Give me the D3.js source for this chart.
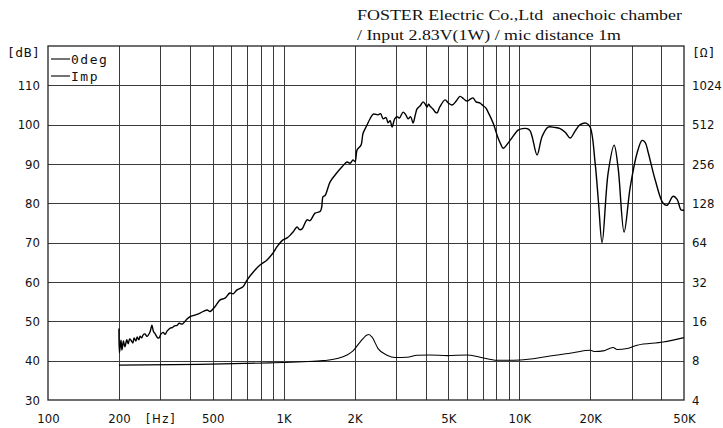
<!DOCTYPE html>
<html>
<head>
<meta charset="utf-8">
<script src="https://cdn.jsdelivr.net/npm/d3@7"></script>
<style>
  html, body { margin: 0; padding: 0; background: #fff; }
  svg { display: block; }
  .tick text { font-family: "DejaVu Sans Condensed", "DejaVu Sans", sans-serif; font-size: 13px; fill: #111; }
  .mono { font-family: "DejaVu Sans Mono", monospace; font-size: 13px; fill: #111; letter-spacing: 1.5px; }
  .title { font-family: "Liberation Serif", "Times New Roman", serif; font-size: 15.5px; fill: #111; }
</style>
</head>
<body>
<svg id="chart" width="723" height="428"></svg>
<script>
// 0deg SPL response [Hz, dB]
const splFreq = [200, 201, 204, 206, 209, 212, 216, 219, 222, 225, 229, 232, 236, 239, 243, 246, 250, 253, 258, 263,
  271, 276, 280, 285, 292, 296, 302, 308, 314, 320, 330, 337, 343, 353, 360, 371, 385, 401, 420, 442,
  473, 487, 511, 536, 564, 591, 610, 634, 672, 699, 742, 794, 850, 902, 938, 994, 1034, 1070, 1096, 1140,
  1170, 1198, 1257, 1294, 1359, 1427, 1450, 1470, 1499, 1573, 1653, 1770, 1858, 1913, 1970, 2010, 2050, 2130, 2173, 2259,
  2327, 2400, 2516, 2580, 2642, 2720, 2774, 2830, 2885, 2960, 3029, 3100, 3212, 3300, 3373, 3460, 3542, 3620, 3683, 3800,
  3905, 3980, 4061, 4120, 4182, 4300, 4400, 4479, 4600, 4843, 5000, 5186, 5400, 5607, 5800, 6003, 6200, 6367, 6550, 6818,
  7022, 7200, 7372, 7743, 8128, 8350, 8535, 9141, 9883, 10300, 10795, 11100, 11333, 11903, 12497, 13253, 14100, 14903, 15700, 16430,
  17300, 18121, 19207, 19976, 20976, 21700, 22459, 23821, 25260, 26268, 27845, 29542, 31623, 33206, 34200, 35219, 37717, 40787, 42402, 44960,
  46756, 48626, 50000];
const splDb = [48.2, 42.0, 45.2, 42.7, 45.0, 43.5, 45.3, 44.3, 45.5, 45.2, 44.5, 45.8, 45.0, 46.0, 45.3, 46.2, 45.8, 46.5, 46.8, 46.2,
  47.3, 49.0, 47.5, 46.8, 45.8, 45.8, 46.8, 47.2, 46.7, 47.5, 48.3, 48.4, 48.8, 49.0, 49.5, 49.3, 50.3, 51.2, 51.6, 52.1,
  52.9, 52.5, 53.7, 55.4, 55.9, 57.2, 57.0, 58.0, 58.8, 60.5, 62.5, 64.3, 65.6, 67.4, 69.0, 70.7, 71.2, 72.0, 72.7, 74.0,
  73.3, 73.5, 75.8, 75.6, 77.5, 77.9, 79.0, 81.7, 82.0, 85.4, 87.2, 89.3, 90.5, 90.2, 91.0, 90.6, 93.6, 94.8, 97.8, 99.9,
  101.5, 102.7, 102.5, 102.8, 101.5, 101.8, 100.5, 101.0, 99.4, 101.5, 102.0, 101.7, 103.2, 102.5, 101.5, 102.0, 100.4, 102.5, 104.0, 104.8,
  105.8, 105.3, 104.5, 105.2, 104.7, 104.0, 103.2, 103.0, 104.5, 106.3, 105.5, 105.0, 106.0, 107.2, 106.6, 106.0, 106.5, 106.8, 105.8, 105.5,
  104.8, 104.3, 103.2, 100.4, 96.6, 95.0, 94.0, 96.0, 98.6, 99.0, 99.0, 98.5, 97.0, 92.3, 97.0, 99.4, 99.3, 99.0, 98.0, 96.6,
  98.5, 100.0, 100.4, 99.4, 90.3, 80.0, 70.0, 87.7, 94.8, 89.0, 72.7, 84.0, 92.8, 96.0, 95.5, 93.0, 86.0, 80.0, 79.5, 81.8,
  81.0, 78.3, 78.3];

// Impedance [Hz, ohm]
const impFreq = [200, 440, 876, 1000, 1209, 1470, 1685, 1858, 1970, 2110, 2259, 2300, 2373, 2516, 2748, 2970, 3340, 3683, 4182, 4940,
  6003, 6818, 8050, 10079, 13125, 16920, 19976, 20976, 22680, 25020, 26010, 28680, 31623, 40787, 50000];
const impOhm = [7.4, 7.5, 7.7, 7.75, 7.85, 8.0, 8.3, 8.85, 9.5, 11.1, 12.6, 12.7, 12.1, 9.9, 8.8, 8.45, 8.5, 8.8, 8.85, 8.75,
  8.85, 8.5, 8.05, 8.1, 8.6, 9.2, 9.6, 9.4, 9.5, 10.1, 9.75, 9.9, 10.5, 11.1, 12.0];

// grid + labels
const gridFreqs = [200, 300, 400, 500, 600, 700, 800, 900, 1000, 2000, 3000, 4000, 5000, 6000, 7000, 8000, 9000,
  10000, 20000, 30000, 40000];
const freqLabels = [[100, "100"], [200, "200"], [300, "[Hz]"], [500, "500"], [1000, "1K"], [2000, "2K"],
  [5000, "5K"], [10000, "10K"], [20000, "20K"], [50000, "50K"]];
const dbTicks = [30, 40, 50, 60, 70, 80, 90, 100, 110];
const ohmTicks = [4, 8, 16, 32, 64, 128, 256, 512, 1024];
const legendNames = ["0deg", "Imp"];
const titleLines = ["FOSTER Electric Co.,Ltd\u00a0\u00a0anechoic chamber", "/ Input 2.83V(1W) / mic distance 1m"];
const titleWidths = [325, 264];

const svg = d3.select("#chart");
const L = 48, R = 684, T = 46, B = 400;

const x = d3.scaleLog().domain([100, 50000]).range([L, R]);
const yDb = d3.scaleLinear().domain([30, 120]).range([B, T]);
const yImp = d3.scaleLog().base(2).domain([4, 2048]).range([B, T]);

// vertical grid
svg.append("g").attr("transform", `translate(0,${B})`)
  .call(d3.axisBottom(x).tickValues(gridFreqs).tickSize(-(B - T)).tickFormat(""))
  .call((g) => g.select(".domain").remove())
  .call((g) => g.selectAll("line").attr("stroke", "#3a3a3a").attr("shape-rendering", "crispEdges"));

// horizontal grid
svg.append("g").attr("transform", `translate(${L},0)`)
  .call(d3.axisLeft(yDb).tickValues(dbTicks.slice(1)).tickSize(-(R - L)).tickFormat(""))
  .call((g) => g.select(".domain").remove())
  .call((g) => g.selectAll("line").attr("stroke", "#3a3a3a").attr("shape-rendering", "crispEdges"));

// frame
svg.append("rect").attr("x", L).attr("y", T).attr("width", R - L).attr("height", B - T)
  .attr("fill", "none").attr("stroke", "#222").attr("stroke-width", 1.3);

// x labels
svg.append("g").attr("transform", `translate(0,${B})`)
  .call(d3.axisBottom(x).tickValues(freqLabels.map((d) => d[0])).tickSize(0).tickPadding(11)
    .tickFormat((d) => freqLabels.find((f) => f[0] === d)[1]))
  .call((g) => g.select(".domain").remove())
  .call((g) => g.selectAll("text").attr("dy", "0.9em")
    .filter((d) => d === 300).attr("class", "mono").style("font-size", "13px"));

// left labels
svg.append("g").attr("transform", `translate(${L},0)`)
  .call(d3.axisLeft(yDb).tickValues(dbTicks).tickSize(0).tickPadding(8))
  .call((g) => g.select(".domain").remove());

// right labels
svg.append("g").attr("transform", `translate(${R},0)`)
  .call(d3.axisRight(yImp).tickValues(ohmTicks).tickSize(0).tickPadding(8).tickFormat(d3.format("d")))
  .call((g) => g.select(".domain").remove());

svg.append("text").attr("class", "mono").attr("x", 7).attr("y", 57).style("letter-spacing", "0.5px").text("[dB]");
svg.append("text").attr("class", "mono").attr("x", 692).attr("y", 57).style("letter-spacing", "0px").text("[\u03a9]");

// title
svg.append("g").selectAll("text").data(titleLines).join("text")
  .attr("class", "title").attr("x", 357).attr("y", (d, i) => 20 + i * 20)
  .attr("textLength", (d, i) => titleWidths[i]).attr("lengthAdjust", "spacingAndGlyphs")
  .text((d) => d);

// curves
const spl = splFreq.map((f, i) => [f, splDb[i]]);
const imp = impFreq.map((f, i) => [f, impOhm[i]]);

svg.append("path").datum(spl)
  .attr("fill", "none").attr("stroke", "#000").attr("stroke-width", 1.4).attr("stroke-linejoin", "round")
  .attr("d", d3.line().x((d) => x(d[0])).y((d) => yDb(d[1])).curve(d3.curveCatmullRom.alpha(0.5)));

svg.append("path").datum(imp)
  .attr("fill", "none").attr("stroke", "#000").attr("stroke-width", 1.1)
  .attr("d", d3.line().x((d) => x(d[0])).y((d) => yImp(d[1])).curve(d3.curveMonotoneX));

// legend
const leg = svg.append("g").selectAll("g").data(legendNames).join("g")
  .attr("transform", (d, i) => `translate(${L + 3},${59 + i * 17})`);
leg.append("line").attr("x1", 0).attr("x2", 19).attr("stroke", "#000").attr("stroke-width", 1.1);
leg.append("text").attr("class", "mono").attr("x", 20).attr("y", 4.5).text((d) => d);
</script>
</body>
</html>
